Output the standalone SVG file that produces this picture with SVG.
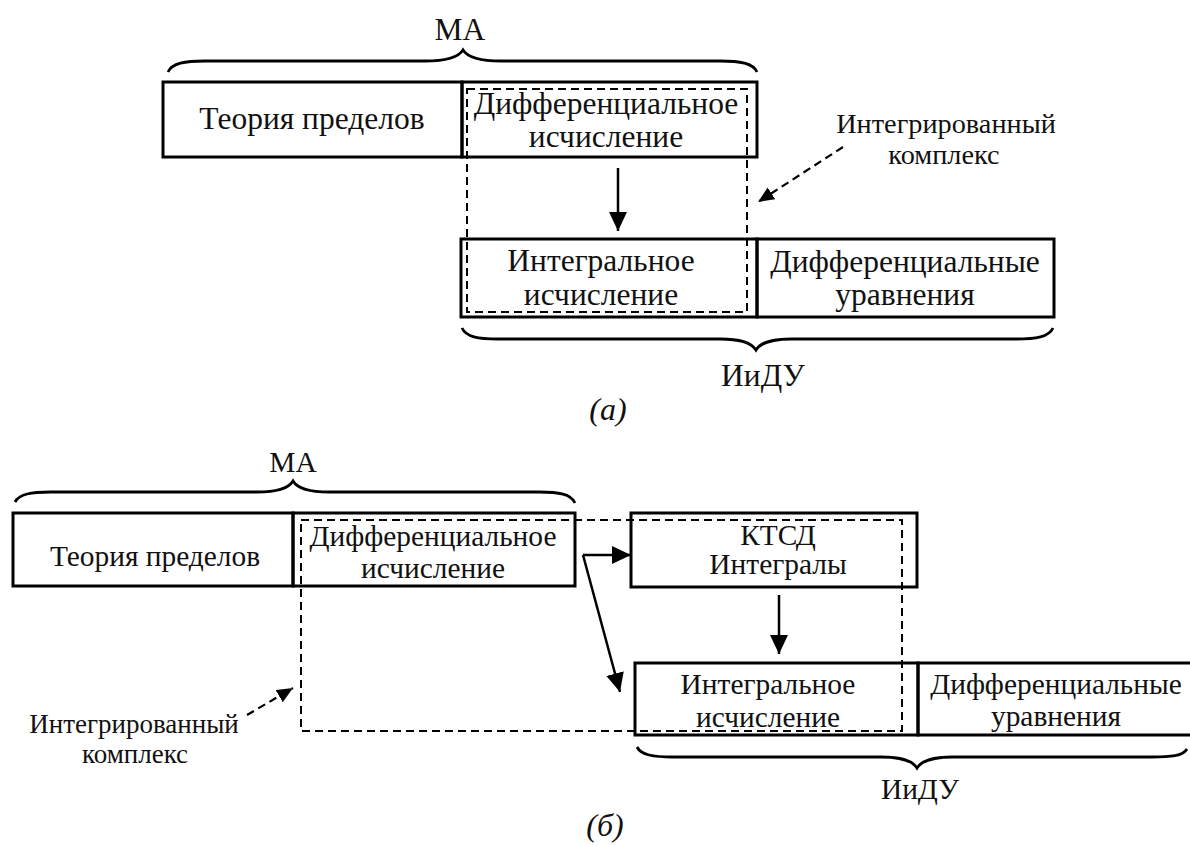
<svg xmlns="http://www.w3.org/2000/svg" width="1190" height="846" viewBox="0 0 1190 846">
<style>
.box{fill:none;stroke:#000;stroke-width:3}
.dash{fill:none;stroke:#000;stroke-width:2;stroke-dasharray:8 5}
.brace{fill:none;stroke:#000;stroke-width:2.8}
.arr{fill:none;stroke:#000;stroke-width:2.5}
.darr{fill:none;stroke:#000;stroke-width:2.2;stroke-dasharray:8 5}
text{font-family:"Liberation Serif","Times New Roman",serif;fill:#111;text-anchor:middle}
.ta{font-size:31.5px}
.tb{font-size:29.4px}
.tsa{font-size:28.3px}
.tsb{font-size:27px}
.cap{font-size:32px;font-style:italic}
</style>
<defs>
<marker id="ah" markerUnits="userSpaceOnUse" markerWidth="21" markerHeight="20" refX="19" refY="9" orient="auto">
<path d="M0,0 L19,9 L0,18 z" fill="#000"/>
</marker>
<marker id="dh" markerUnits="userSpaceOnUse" markerWidth="18" markerHeight="16" refX="16" refY="7" orient="auto">
<path d="M0,0 L16,7 L0,14 z" fill="#000"/>
</marker>
</defs>

<!-- (a) -->
<g id="a-ma-label">
<text class="ta" x="460" y="40">МА</text>
<path class="brace" d="M168,72 C172,63 185,61 205,61 L425,61 C445,61 458,58 463,50 C468,58 481,61 501,61 L720,61 C740,61 753,63 757,72"/>
</g>
<g id="a-theory">
<rect class="box" x="163" y="82" width="299" height="75"/>
<text class="ta" x="312" y="129">Теория пределов</text>
</g>
<g id="a-diff">
<rect class="box" x="462" y="82" width="295" height="75"/>
<text class="ta" x="606" y="114">Дифференциальное</text>
<text class="ta" x="606" y="147">исчисление</text>
</g>
<g id="a-integral">
<rect class="box" x="461" y="239" width="296" height="78"/>
<text class="ta" x="601" y="271">Интегральное</text>
<text class="ta" x="601" y="305">исчисление</text>
</g>
<g id="a-diffeq">
<rect class="box" x="757" y="239" width="297" height="78"/>
<text class="ta" x="905" y="272">Дифференциальные</text>
<text class="ta" x="905" y="305">уравнения</text>
</g>
<g id="a-complex">
<rect class="dash" x="467" y="89" width="280" height="223"/>
<text class="tsa" x="946" y="133">Интегрированный</text>
<text class="tsa" x="944" y="164">комплекс</text>
</g>
<g id="a-iidu">
<path class="brace" d="M462,328 C466,337 478,339 498,339 L720,339 C740,339 751,342 756,350 C761,342 772,339 792,339 L1016,339 C1036,339 1049,337 1053,328"/>
<text class="ta" x="763" y="386">ИиДУ</text>
</g>
<text class="cap" x="608" y="420">(а)</text>

<!-- (b) -->
<g id="b-ma-label">
<text class="tb" x="293" y="472">МА</text>
<path class="brace" d="M15,502 C19,494 31,492 51,492 L257,492 C277,492 288,489 293,481 C298,489 309,492 329,492 L539,492 C559,492 571,494 575,503"/>
</g>
<g id="b-theory">
<rect class="box" x="13" y="513" width="280" height="73"/>
<text class="tb" x="155" y="566">Теория пределов</text>
</g>
<g id="b-diff">
<rect class="box" x="293" y="513" width="282" height="73"/>
<text class="tb" x="433" y="546">Дифференциальное</text>
<text class="tb" x="433" y="578">исчисление</text>
</g>
<g id="b-ktsd">
<rect class="box" x="631" y="513" width="286" height="74"/>
<text class="tb" x="778" y="545">КТСД</text>
<text class="tb" x="778" y="574">Интегралы</text>
</g>
<g id="b-integral">
<rect class="box" x="635" y="663" width="283" height="72"/>
<text class="tb" x="768" y="694">Интегральное</text>
<text class="tb" x="768" y="727">исчисление</text>
</g>
<g id="b-diffeq">
<rect class="box" x="918" y="663" width="274" height="72"/>
<text class="tb" x="1056" y="694">Дифференциальные</text>
<text class="tb" x="1056" y="726">уравнения</text>
</g>
<g id="b-complex">
<rect class="dash" x="301" y="520" width="601" height="211"/>
<text class="tsb" x="134" y="733">Интегрированный</text>
<text class="tsb" x="135" y="763">комплекс</text>
</g>
<g id="b-iidu">
<path class="brace" d="M637,747 C641,755 653,757 673,757 L881,757 C901,757 912,760 917,768 C922,760 933,757 953,757 L1151,757 C1171,757 1183,756 1187,749"/>
<text class="tb" x="920" y="799">ИиДУ</text>
</g>
<text class="cap" x="605" y="836">(б)</text>

<g id="connectors">
<line class="arr" x1="618" y1="168" x2="618" y2="231" marker-end="url(#ah)"/>
<line class="darr" x1="843" y1="147" x2="758" y2="202" marker-end="url(#dh)"/>
<line class="arr" x1="583" y1="555" x2="631" y2="555" marker-end="url(#ah)"/>
<line class="arr" x1="583" y1="555" x2="620" y2="692" marker-end="url(#ah)"/>
<line class="arr" x1="779" y1="595" x2="779" y2="654" marker-end="url(#ah)"/>
<line class="darr" x1="247" y1="715" x2="293" y2="688" marker-end="url(#dh)"/>
</g>
</svg>
